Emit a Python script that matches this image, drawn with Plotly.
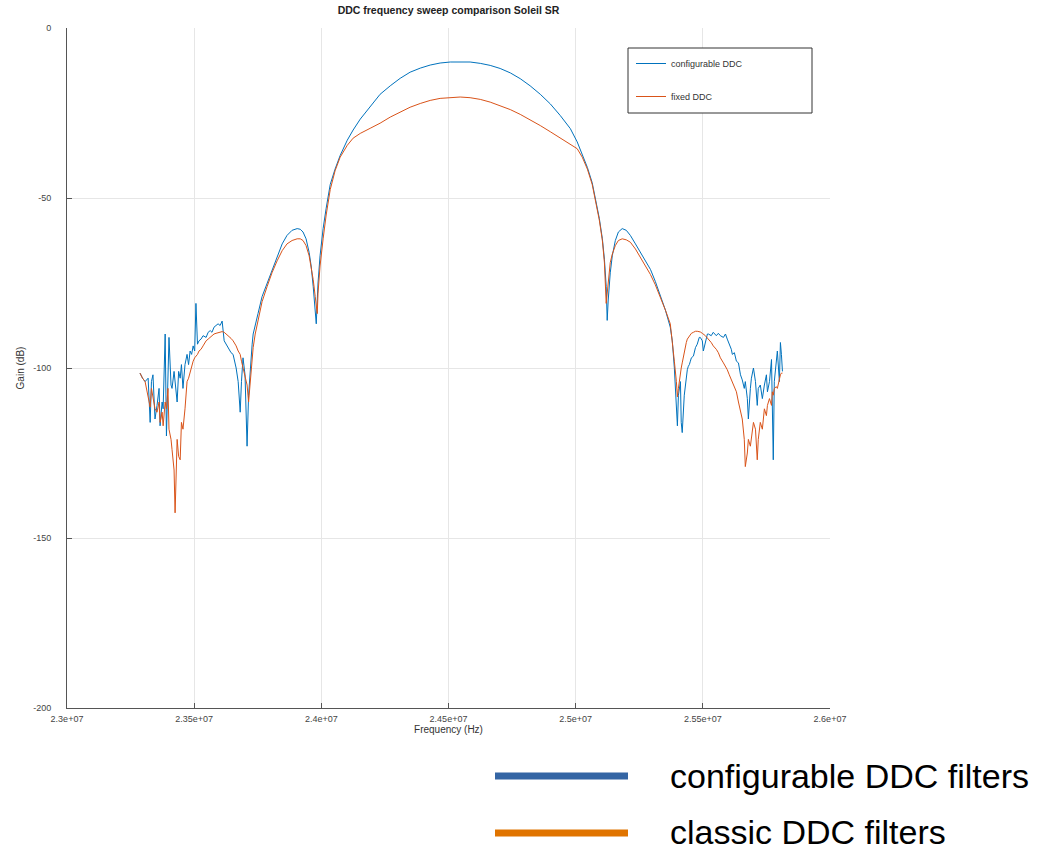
import plotly.graph_objects as go

# ---------------- data ----------------
# Lower noisy skirt, sweep frequencies in MHz (shared by both filters)
freq_left_mhz = [23.287, 23.297, 23.307, 23.319, 23.327, 23.332, 23.338, 23.346, 23.354, 23.362,
                 23.366, 23.374, 23.378, 23.386, 23.391, 23.397, 23.401, 23.409, 23.413, 23.421,
                 23.425, 23.433, 23.439, 23.445, 23.450, 23.456, 23.464, 23.472, 23.478, 23.484,
                 23.490, 23.496, 23.502, 23.507, 23.513, 23.519, 23.527, 23.535, 23.547, 23.555,
                 23.563, 23.570, 23.578, 23.586, 23.594, 23.602, 23.610, 23.618, 23.626, 23.633,
                 23.645, 23.653, 23.665, 23.673, 23.681, 23.686, 23.692, 23.700, 23.708, 23.714,
                 23.720, 23.728, 23.732, 23.740]
cfg_left_db = [-101.5, -103, -104, -103, -116, -104, -102, -115, -111, -106,
               -117, -110, -112, -90, -120, -104, -91, -105, -106, -101,
               -104, -110, -101, -103, -99, -106, -99, -96, -99, -95,
               -96, -93.5, -95, -81, -93, -92, -91.5, -90.5, -91, -89.5,
               -89, -89.5, -88, -87.5, -87, -87.5, -86.2, -92, -93, -94,
               -95.5, -96, -100, -104, -113, -104, -97, -102, -123, -108,
               -100, -93, -90, -87]
fix_left_db = [-101.5, -103, -104, -108, -111.5, -106, -109, -112, -113, -110,
               -116, -113, -117, -110, -112, -106, -118, -121, -124, -130,
               -142.6, -121, -126, -127, -116, -118, -112, -104, -103, -101,
               -100, -98, -97, -96.5, -96, -95, -94.5, -93.5, -92, -91.5,
               -91, -90.5, -90, -89.8, -89.6, -89.5, -89.3, -89.5, -90, -90.5,
               -91.3, -92, -93.5, -95, -96, -98, -100, -102, -105, -110,
               -104, -98, -94, -90]

# Side lobes and main lobe (smooth part)
freq_mid_mhz = [23.751, 23.767, 23.787, 23.806, 23.826, 23.846, 23.865, 23.885, 23.905, 23.917,
                23.928, 23.940, 23.952, 23.960, 23.968, 23.976, 23.980, 23.984, 23.987, 23.995,
                24.007, 24.019, 24.035, 24.054, 24.074, 24.102, 24.125, 24.153, 24.192, 24.231,
                24.271, 24.310, 24.349, 24.389, 24.428, 24.467, 24.507, 24.546, 24.585, 24.625,
                24.664, 24.703, 24.743, 24.782, 24.821, 24.861, 24.900, 24.939, 24.979, 25.006,
                25.026, 25.046, 25.065, 25.081, 25.093, 25.105, 25.113, 25.120, 25.124, 25.128,
                25.136, 25.144, 25.156, 25.168, 25.183, 25.199, 25.215, 25.235, 25.254, 25.274,
                25.294, 25.313, 25.333, 25.353]
cfg_mid_db = [-84, -79, -75, -71, -67, -63.5, -61, -59.5, -59, -59.2,
              -60, -62, -66, -70, -76, -82, -87, -80, -75, -67,
              -59, -53, -46, -41.5, -37.5, -33, -30, -26.8, -23, -19.5,
              -17, -14.8, -13, -11.8, -10.9, -10.3, -10, -9.9, -10, -10.4,
              -11, -11.9, -13.2, -14.9, -17, -19.5, -22.3, -25.7, -29.6, -33.5,
              -37, -41, -45.5, -51, -56, -62, -68, -76, -86, -80,
              -72, -67, -62.5, -60, -59, -59.5, -61, -63.5, -66, -68.5,
              -71, -74.5, -78.5, -83]
fix_mid_db = [-86, -80.5, -76, -72, -68.5, -65.5, -63.5, -62.5, -62, -62,
              -62.5, -64, -67, -70, -74, -79, -82, -84, -78, -70,
              -62, -55, -47.5, -42, -38, -34.5, -32.4, -31, -29.5, -28,
              -26.2, -24.7, -23.3, -22.2, -21.3, -20.7, -20.4, -20.3, -20.5, -21,
              -21.8, -22.8, -24, -25.4, -27, -28.7, -30.5, -32.3, -34, -35.5,
              -38, -41.5, -46, -51.5, -56.5, -62.5, -69, -81, -78, -73,
              -69, -66.5, -64, -62.5, -62, -62.3, -63, -65, -67.5, -70,
              -72.5, -75.5, -79, -83]

# Upper noisy skirt
freq_right_mhz = [25.372, 25.380, 25.388, 25.396, 25.400, 25.404, 25.412, 25.415, 25.419, 25.427,
                  25.435, 25.439, 25.443, 25.447, 25.451, 25.455, 25.463, 25.471, 25.478, 25.486,
                  25.490, 25.498, 25.502, 25.510, 25.518, 25.522, 25.533, 25.541, 25.553, 25.561,
                  25.569, 25.581, 25.589, 25.596, 25.604, 25.612, 25.616, 25.624, 25.632, 25.640,
                  25.648, 25.655, 25.663, 25.667, 25.675, 25.679, 25.687, 25.691, 25.699, 25.707,
                  25.714, 25.718, 25.726, 25.734, 25.742, 25.750, 25.754, 25.762, 25.770, 25.773,
                  25.777, 25.781, 25.789, 25.793, 25.801, 25.805, 25.809, 25.813]
cfg_right_db = [-88, -92, -100, -110, -117, -108, -104, -116, -119, -108,
                -102, -100.5, -99.5, -99, -98, -97, -96.5, -94, -93, -91,
                -91, -92, -95, -92, -90, -90, -90.5, -89.5, -90.5, -89.8,
                -90.5, -91, -90, -91.5, -93, -94.5, -96, -95.5, -98, -98.5,
                -102, -103.5, -106, -104, -109, -115, -106, -103, -100, -104,
                -111, -106, -105, -109, -105, -102, -107, -104, -97.5, -112,
                -127, -104, -99, -95, -104, -92.5, -96, -101]
fix_right_db = [-87, -92, -98, -104, -108.5, -106, -101, -100, -98.5, -95,
                -92.5, -91.5, -91, -90.5, -90, -89.8, -89.5, -89.2, -89.2, -89.3,
                -89.4, -89.8, -90, -90.5, -91.2, -91.5, -92.5, -93.5, -94.5, -95.5,
                -97, -98.5, -99.5, -100.5, -102, -103.5, -104, -105.5, -107, -110,
                -113, -115, -121, -129, -125, -121, -123, -120, -116, -118,
                -127, -121, -116, -118, -112, -114, -111, -109, -111, -107,
                -108, -106, -105.5, -106, -103, -102, -101.5, -101.5]

series_names = ["configurable DDC", "fixed DDC"]
footer_labels = ["configurable DDC filters", "classic DDC filters"]
x_tick_vals = [2.3e7, 2.35e7, 2.4e7, 2.45e7, 2.5e7, 2.55e7, 2.6e7]
x_tick_text = ["2.3e+07", "2.35e+07", "2.4e+07", "2.45e+07", "2.5e+07", "2.55e+07", "2.6e+07"]
y_tick_vals = [-200, -150, -100, -50, 0]
y_tick_text = ["-200", "-150", "-100", "-50", "0"]
chart_title = "DDC frequency sweep comparison Soleil SR"

# ---------------- build ----------------
freq_hz = [f * 1e6 for f in freq_left_mhz + freq_mid_mhz + freq_right_mhz]
cfg_db = cfg_left_db + cfg_mid_db + cfg_right_db
fix_db = fix_left_db + fix_mid_db + fix_right_db

BLUE = "#0072BD"
ORANGE = "#D95319"
FONT = "Liberation Sans"

fig = go.Figure()
fig.add_trace(go.Scatter(x=freq_hz, y=cfg_db, mode="lines", name=series_names[0],
                         legendgroup="a", line=dict(color=BLUE, width=1)))
fig.add_trace(go.Scatter(x=freq_hz, y=fix_db, mode="lines", name=series_names[1],
                         legendgroup="b", line=dict(color=ORANGE, width=1)))

W, H = 1058, 851
L, R, T, B = 67, 830, 28, 708
pw, ph = R - L, B - T


def px(xs):
    return (xs - L) / pw


def py(ys):
    return 1 - (ys - T) / ph


axis_common = dict(showline=True, linecolor="#555", linewidth=1, mirror=False,
                   ticks="inside", ticklen=5, tickcolor="#555",
                   showgrid=True, gridcolor="#e6e6e6", gridwidth=1, zeroline=False,
                   tickfont=dict(family=FONT, size=9, color="#444"))

fig.update_xaxes(range=[2.3e7, 2.6e7], tickvals=x_tick_vals, ticktext=x_tick_text,
                 ticklabelstandoff=2,
                 title=dict(text="Frequency (Hz)", font=dict(family=FONT, size=10, color="#333"),
                            standoff=3), **axis_common)
fig.update_yaxes(range=[-200, 0], tickvals=y_tick_vals, ticktext=y_tick_text,
                 ticklabelstandoff=13,
                 title=dict(text="Gain (dB)", font=dict(family=FONT, size=10, color="#333"),
                            standoff=6), **axis_common)

shapes = [
    # legend box
    dict(type="rect", xref="paper", yref="paper", x0=px(628), x1=px(812), y0=py(113), y1=py(48),
         line=dict(color="#333", width=1), fillcolor="white", layer="above"),
    # footer legend lines
    dict(type="line", xref="paper", yref="paper", x0=px(495), x1=px(628), y0=py(776), y1=py(776),
         line=dict(color="#3465A4", width=7)),
    dict(type="line", xref="paper", yref="paper", x0=px(495), x1=px(628), y0=py(833), y1=py(833),
         line=dict(color="#E07400", width=7)),
]
annotations = [
    dict(xref="paper", yref="paper", x=px(668), y=py(776), xanchor="left", yanchor="middle",
         text=footer_labels[0], showarrow=False, font=dict(family=FONT, size=34, color="black")),
    dict(xref="paper", yref="paper", x=px(668), y=py(832), xanchor="left", yanchor="middle",
         text=footer_labels[1], showarrow=False, font=dict(family=FONT, size=34, color="black")),
]

fig.update_layout(
    width=W, height=H,
    margin=dict(l=L, r=W - R, t=T, b=H - B, autoexpand=False),
    paper_bgcolor="white", plot_bgcolor="white",
    font=dict(family=FONT, size=9, color="#333"),
    title=dict(text="<b>" + chart_title + "</b>", x=0.5, xref="paper", xanchor="center",
               y=1 - 10 / H, yref="container", yanchor="middle",
               font=dict(family=FONT, size=10.5, color="#222")),
    showlegend=True,
    legend=dict(x=px(631), y=py(49), xanchor="left", yanchor="top",
                bgcolor="rgba(0,0,0,0)", borderwidth=0, tracegroupgap=14,
                font=dict(family=FONT, size=9, color="#333")),
    shapes=shapes, annotations=annotations,
)

# remove the default 8px page margin so the figure sits at the window origin
fig.write_html("out.html", config={"displayModeBar": False},
               post_script="document.body.style.margin='0';")
